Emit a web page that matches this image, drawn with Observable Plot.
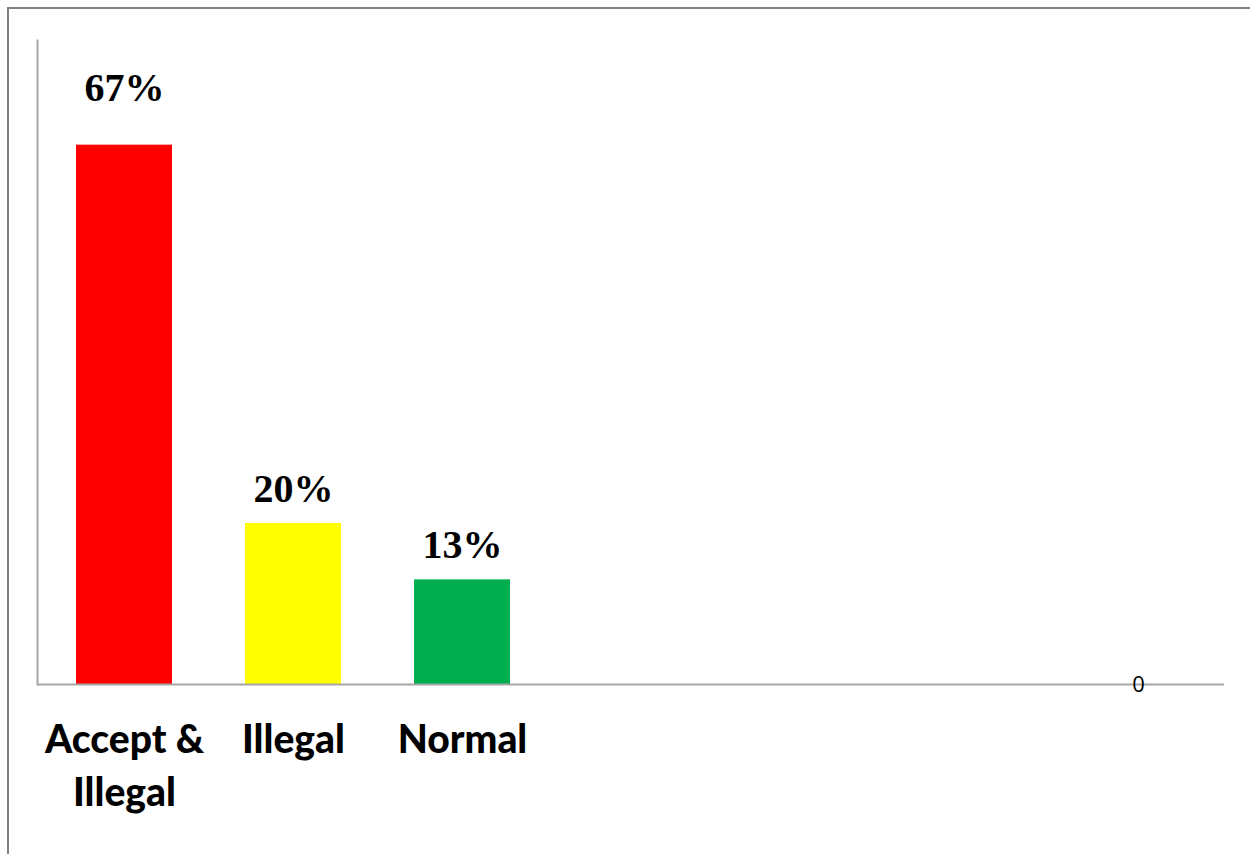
<!DOCTYPE html>
<html>
<head>
<meta charset="utf-8">
<script src="https://cdn.jsdelivr.net/npm/d3@7"></script>
<script src="https://cdn.jsdelivr.net/npm/@observablehq/plot@0.6"></script>
<style>
  html, body { margin: 0; padding: 0; background: #fff; }
  #wrap { position: relative; width: 1250px; height: 854px; overflow: hidden; }
  #border { position: absolute; left: 7px; top: 7px; width: 1300px; height: 900px;
            border-left: 2px solid #808080; border-top: 2px solid #808080; }
  #chart { position: absolute; left: 0; top: 0; }
</style>
</head>
<body>
<div id="wrap"><div id="border"></div><div id="chart"></div></div>
<script>
const categories = ["Accept & Illegal", "Illegal", "Normal", "c4", "c5", "c6", "c7"];
const values = [67, 20, 13, null, null, null, 0];
const tickLabels = ["Accept &\nIllegal", "Illegal", "Normal", "", "", "", ""];
const colors = ["#FF0000", "#FFFF00", "#00B050", "#ffffff", "#ffffff", "#ffffff", "#ffffff"];

const data = categories.map((c, i) => ({cat: c, value: values[i], label: tickLabels[i], color: colors[i], idx: i}));
const bars = data.filter(d => d.value != null && d.value > 0);

const chart = Plot.plot({
  width: 1250,
  height: 854,
  marginLeft: 37,
  marginRight: 26,
  marginTop: 40,
  marginBottom: 170,
  style: {background: "transparent", overflow: "visible"},
  x: {domain: categories, paddingInner: 0.434, paddingOuter: 0.217, axis: null},
  y: {domain: [0, 80], axis: null},
  marks: [
    Plot.barY(bars, {x: "cat", y: "value", fill: "color"}),
    Plot.frame({anchor: "left", stroke: "#a6a6a6", strokeWidth: 2}),
    Plot.ruleY([0], {stroke: "#a6a6a6", strokeWidth: 2}),
    Plot.text(bars.filter(d => d.idx === 0), {x: "cat", y: "value", text: d => d.value + "%",
      lineAnchor: "bottom", dy: -44, fontSize: 40, fontWeight: "bold", fontFamily: "Liberation Serif", fill: "#000"}),
    Plot.text(bars.filter(d => d.idx !== 0), {x: "cat", y: "value", text: d => d.value + "%",
      lineAnchor: "bottom", dy: -22, fontSize: 40, fontWeight: "bold", fontFamily: "Liberation Serif", fill: "#000"}),
    Plot.text(data.filter(d => d.value === 0), {x: "cat", y: "value", text: d => String(d.value),
      lineAnchor: "middle", fontSize: 22, fontFamily: "Open Sans", fill: "#000"}),
    Plot.axisX({tickSize: 0, tickPadding: 31, tickFormat: (d, i) => tickLabels[categories.indexOf(d)],
      fontSize: 39, fontWeight: 900, fontFamily: "Lato", lineHeight: 1.35, fill: "#000", label: null})
  ]
});
document.getElementById("chart").appendChild(chart);
</script>
</body>
</html>
